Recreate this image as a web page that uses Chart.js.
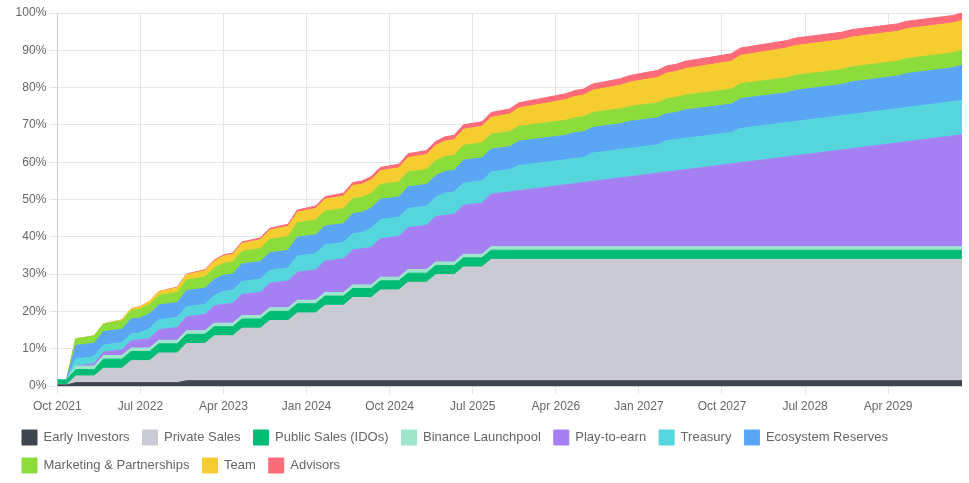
<!DOCTYPE html>
<html>
<head>
<meta charset="utf-8">
<script src="https://cdn.jsdelivr.net/npm/chart.js@4.4.1/dist/chart.umd.min.js"></script>
<style>
  html, body { margin: 0; padding: 0; background: #fff; }
</style>
</head>
<body>
<canvas id="vesting" width="969" height="483"></canvas>
<script>
// months, Oct 2021 .. Dec 2029
const months = [
  'Oct 2021', 'Nov 2021', 'Dec 2021', 'Jan 2022', 'Feb 2022', 'Mar 2022', 'Apr 2022', 'May 2022', 'Jun 2022', 'Jul 2022', 'Aug 2022', 'Sep 2022',
  'Oct 2022', 'Nov 2022', 'Dec 2022', 'Jan 2023', 'Feb 2023', 'Mar 2023', 'Apr 2023', 'May 2023', 'Jun 2023', 'Jul 2023', 'Aug 2023', 'Sep 2023',
  'Oct 2023', 'Nov 2023', 'Dec 2023', 'Jan 2024', 'Feb 2024', 'Mar 2024', 'Apr 2024', 'May 2024', 'Jun 2024', 'Jul 2024', 'Aug 2024', 'Sep 2024',
  'Oct 2024', 'Nov 2024', 'Dec 2024', 'Jan 2025', 'Feb 2025', 'Mar 2025', 'Apr 2025', 'May 2025', 'Jun 2025', 'Jul 2025', 'Aug 2025', 'Sep 2025',
  'Oct 2025', 'Nov 2025', 'Dec 2025', 'Jan 2026', 'Feb 2026', 'Mar 2026', 'Apr 2026', 'May 2026', 'Jun 2026', 'Jul 2026', 'Aug 2026', 'Sep 2026',
  'Oct 2026', 'Nov 2026', 'Dec 2026', 'Jan 2027', 'Feb 2027', 'Mar 2027', 'Apr 2027', 'May 2027', 'Jun 2027', 'Jul 2027', 'Aug 2027', 'Sep 2027',
  'Oct 2027', 'Nov 2027', 'Dec 2027', 'Jan 2028', 'Feb 2028', 'Mar 2028', 'Apr 2028', 'May 2028', 'Jun 2028', 'Jul 2028', 'Aug 2028', 'Sep 2028',
  'Oct 2028', 'Nov 2028', 'Dec 2028', 'Jan 2029', 'Feb 2029', 'Mar 2029', 'Apr 2029', 'May 2029', 'Jun 2029', 'Jul 2029', 'Aug 2029', 'Sep 2029',
  'Oct 2029', 'Nov 2029', 'Dec 2029'
];

// unlocked share of total supply, % (one value per month)
const earlyInvestors = [
  0.3, 0.3, 0.9, 0.9, 0.9, 0.9, 0.9, 0.9, 0.9, 0.9, 0.9, 0.9,
  0.9, 0.9, 1.4, 1.4, 1.4, 1.4, 1.4, 1.4, 1.4, 1.4, 1.4, 1.4,
  1.4, 1.4, 1.4, 1.4, 1.4, 1.4, 1.4, 1.4, 1.4, 1.4, 1.4, 1.4,
  1.4, 1.4, 1.4, 1.4, 1.4, 1.4, 1.4, 1.4, 1.4, 1.4, 1.4, 1.4,
  1.4, 1.4, 1.4, 1.4, 1.4, 1.4, 1.4, 1.4, 1.4, 1.4, 1.4, 1.4,
  1.4, 1.4, 1.4, 1.4, 1.4, 1.4, 1.4, 1.4, 1.4, 1.4, 1.4, 1.4,
  1.4, 1.4, 1.4, 1.4, 1.4, 1.4, 1.4, 1.4, 1.4, 1.4, 1.4, 1.4,
  1.4, 1.4, 1.4, 1.4, 1.4, 1.4, 1.4, 1.4, 1.4, 1.4, 1.4, 1.4,
  1.4, 1.4, 1.4
];
const privateSales = [
  0, 0, 1.8, 1.8, 1.8, 3.85, 3.85, 3.85, 5.9, 5.9, 5.9, 7.95,
  7.95, 7.95, 10, 10, 10, 12.05, 12.05, 12.05, 14.1, 14.1, 14.1, 16.15,
  16.15, 16.15, 18.2, 18.2, 18.2, 20.25, 20.25, 20.25, 22.3, 22.3, 22.3, 24.35,
  24.35, 24.35, 26.4, 26.4, 26.4, 28.45, 28.45, 28.45, 30.5, 30.5, 30.5, 32.55,
  32.55, 32.55, 32.55, 32.55, 32.55, 32.55, 32.55, 32.55, 32.55, 32.55, 32.55, 32.55,
  32.55, 32.55, 32.55, 32.55, 32.55, 32.55, 32.55, 32.55, 32.55, 32.55, 32.55, 32.55,
  32.55, 32.55, 32.55, 32.55, 32.55, 32.55, 32.55, 32.55, 32.55, 32.55, 32.55, 32.55,
  32.55, 32.55, 32.55, 32.55, 32.55, 32.55, 32.55, 32.55, 32.55, 32.55, 32.55, 32.55,
  32.55, 32.55, 32.55
];
const publicSales = [
  1.3, 1.3, 1.7, 1.7, 1.7, 2.45, 2.45, 2.45, 2.45, 2.45, 2.45, 2.45,
  2.45, 2.45, 2.45, 2.45, 2.45, 2.45, 2.45, 2.45, 2.45, 2.45, 2.45, 2.45,
  2.45, 2.45, 2.45, 2.45, 2.45, 2.45, 2.45, 2.45, 2.45, 2.45, 2.45, 2.45,
  2.45, 2.45, 2.45, 2.45, 2.45, 2.45, 2.45, 2.45, 2.45, 2.45, 2.45, 2.45,
  2.45, 2.45, 2.45, 2.45, 2.45, 2.45, 2.45, 2.45, 2.45, 2.45, 2.45, 2.45,
  2.45, 2.45, 2.45, 2.45, 2.45, 2.45, 2.45, 2.45, 2.45, 2.45, 2.45, 2.45,
  2.45, 2.45, 2.45, 2.45, 2.45, 2.45, 2.45, 2.45, 2.45, 2.45, 2.45, 2.45,
  2.45, 2.45, 2.45, 2.45, 2.45, 2.45, 2.45, 2.45, 2.45, 2.45, 2.45, 2.45,
  2.45, 2.45, 2.45
];
const binanceLaunchpool = [
  0, 0, 0.95, 0.95, 0.95, 0.95, 0.95, 0.95, 0.95, 0.95, 0.95, 0.95,
  0.95, 0.95, 0.95, 0.95, 0.95, 0.95, 0.95, 0.95, 0.95, 0.95, 0.95, 0.95,
  0.95, 0.95, 0.95, 0.95, 0.95, 0.95, 0.95, 0.95, 0.95, 0.95, 0.95, 0.95,
  0.95, 0.95, 0.95, 0.95, 0.95, 0.95, 0.95, 0.95, 0.95, 0.95, 0.95, 0.95,
  0.95, 0.95, 0.95, 0.95, 0.95, 0.95, 0.95, 0.95, 0.95, 0.95, 0.95, 0.95,
  0.95, 0.95, 0.95, 0.95, 0.95, 0.95, 0.95, 0.95, 0.95, 0.95, 0.95, 0.95,
  0.95, 0.95, 0.95, 0.95, 0.95, 0.95, 0.95, 0.95, 0.95, 0.95, 0.95, 0.95,
  0.95, 0.95, 0.95, 0.95, 0.95, 0.95, 0.95, 0.95, 0.95, 0.95, 0.95, 0.95,
  0.95, 0.95, 0.95
];
const playToEarn = [
  0, 0, 0, 0.31, 0.63, 0.94, 1.25, 1.56, 1.88, 2.19, 2.5, 2.81,
  3.13, 3.44, 3.75, 4.06, 4.38, 4.69, 5, 5.31, 5.63, 5.94, 6.25, 6.56,
  6.88, 7.19, 7.5, 7.81, 8.13, 8.44, 8.75, 9.06, 9.38, 9.69, 10, 10.31,
  10.63, 10.94, 11.25, 11.56, 11.88, 12.19, 12.5, 12.81, 13.13, 13.44, 13.75, 14.06,
  14.38, 14.69, 15, 15.31, 15.63, 15.94, 16.25, 16.56, 16.88, 17.19, 17.5, 17.81,
  18.13, 18.44, 18.75, 19.06, 19.38, 19.69, 20, 20.31, 20.63, 20.94, 21.25, 21.56,
  21.88, 22.19, 22.5, 22.81, 23.13, 23.44, 23.75, 24.06, 24.38, 24.69, 25, 25.31,
  25.63, 25.94, 26.25, 26.56, 26.88, 27.19, 27.5, 27.81, 28.13, 28.44, 28.75, 29.06,
  29.38, 29.69, 30
];
const treasury = [
  0, 0, 1.9, 1.9, 1.9, 1.9, 1.9, 1.9, 1.9, 1.9, 2.7, 2.7,
  2.7, 2.7, 2.7, 2.7, 2.7, 2.7, 3.5, 3.5, 3.5, 3.5, 3.5, 3.5,
  3.5, 3.5, 4.35, 4.35, 4.35, 4.35, 4.35, 4.35, 4.35, 4.35, 5.15, 5.15,
  5.15, 5.15, 5.15, 5.15, 5.15, 5.15, 5.95, 5.95, 5.95, 5.95, 5.95, 5.95,
  5.95, 5.95, 6.75, 6.75, 6.75, 6.75, 6.75, 6.75, 6.75, 6.75, 7.6, 7.6,
  7.6, 7.6, 7.6, 7.6, 7.6, 7.6, 8.4, 8.4, 8.4, 8.4, 8.4, 8.4,
  8.4, 8.4, 9.2, 9.2, 9.2, 9.2, 9.2, 9.2, 9.2, 9.2, 9.2, 9.2,
  9.2, 9.2, 9.2, 9.2, 9.2, 9.2, 9.2, 9.2, 9.2, 9.2, 9.2, 9.2,
  9.2, 9.2, 9.2
];
const ecosystemReserves = [
  0, 0, 3.6, 3.6, 3.6, 3.6, 3.6, 3.6, 3.97, 3.97, 3.97, 3.97,
  3.97, 3.97, 4.33, 4.33, 4.33, 4.33, 4.33, 4.33, 4.7, 4.7, 4.7, 4.7,
  4.7, 4.7, 5.06, 5.06, 5.06, 5.06, 5.06, 5.06, 5.43, 5.43, 5.43, 5.43,
  5.43, 5.43, 5.8, 5.8, 5.8, 5.8, 5.8, 5.8, 6.16, 6.16, 6.16, 6.16,
  6.16, 6.16, 6.53, 6.53, 6.53, 6.53, 6.53, 6.53, 6.89, 6.89, 6.89, 6.89,
  6.89, 6.89, 7.26, 7.26, 7.26, 7.26, 7.26, 7.26, 7.63, 7.63, 7.63, 7.63,
  7.63, 7.63, 7.99, 7.99, 7.99, 7.99, 7.99, 7.99, 8.36, 8.36, 8.36, 8.36,
  8.36, 8.36, 8.72, 8.72, 8.72, 8.72, 8.72, 8.72, 9.09, 9.09, 9.09, 9.09,
  9.09, 9.09, 9.45
];
const marketing = [
  0, 0, 1.8, 1.88, 1.97, 2.05, 2.14, 2.22, 2.31, 2.39, 2.48, 2.56,
  2.65, 2.73, 2.82, 2.9, 2.99, 3.07, 3.16, 3.24, 3.33, 3.41, 3.5, 3.58,
  3.67, 3.75, 3.84, 3.92, 4, 4, 4, 4, 4, 4, 4, 4,
  4, 4, 4, 4, 4, 4, 4, 4, 4, 4, 4, 4,
  4, 4, 4, 4, 4, 4, 4, 4, 4, 4, 4, 4,
  4, 4, 4, 4, 4, 4, 4, 4, 4, 4, 4, 4,
  4, 4, 4, 4, 4, 4, 4, 4, 4, 4, 4, 4,
  4, 4, 4, 4, 4, 4, 4, 4, 4, 4, 4, 4,
  4, 4, 4
];
const team = [
  0, 0, 0, 0, 0, 0, 0.15, 0.31, 0.47, 0.63, 0.8, 0.96,
  1.12, 1.28, 1.44, 1.6, 1.71, 1.83, 1.94, 2.05, 2.16, 2.28, 2.39, 2.5,
  2.61, 2.73, 2.84, 2.95, 3.06, 3.18, 3.29, 3.4, 3.47, 3.54, 3.61, 3.68,
  3.74, 3.81, 3.88, 3.95, 4.02, 4.09, 4.16, 4.23, 4.29, 4.36, 4.43, 4.5,
  4.63, 4.76, 4.89, 5.03, 5.16, 5.29, 5.42, 5.55, 5.68, 5.81, 5.94, 6.08,
  6.21, 6.34, 6.47, 6.6, 6.69, 6.78, 6.86, 6.95, 7.04, 7.13, 7.21, 7.3,
  7.39, 7.48, 7.56, 7.65, 7.74, 7.83, 7.91, 8, 8, 8, 8, 8,
  8, 8, 8, 8, 8, 8, 8, 8, 8, 8, 8, 8,
  8, 8, 8
];
const advisors = [
  0, 0, 0, 0, 0, 0, 0, 0, 0, 0.03, 0.07, 0.1,
  0.13, 0.17, 0.2, 0.23, 0.27, 0.3, 0.33, 0.37, 0.4, 0.43, 0.47, 0.5,
  0.53, 0.57, 0.6, 0.63, 0.67, 0.7, 0.73, 0.77, 0.8, 0.83, 0.87, 0.9,
  0.93, 0.97, 1, 1.03, 1.07, 1.1, 1.13, 1.17, 1.2, 1.23, 1.27, 1.3,
  1.33, 1.37, 1.4, 1.43, 1.47, 1.5, 1.53, 1.57, 1.6, 1.63, 1.67, 1.7,
  1.73, 1.77, 1.8, 1.83, 1.87, 1.9, 1.93, 1.97, 2, 2, 2, 2,
  2, 2, 2, 2, 2, 2, 2, 2, 2, 2, 2, 2,
  2, 2, 2, 2, 2, 2, 2, 2, 2, 2, 2, 2,
  2, 2, 2
];

const series = [
  ['Early Investors', earlyInvestors, '#3e4450'],
  ['Private Sales', privateSales, '#c9cad3'],
  ['Public Sales (IDOs)', publicSales, '#00bc74'],
  ['Binance Launchpool', binanceLaunchpool, '#9ee6cb'],
  ['Play-to-earn', playToEarn, '#a580f3'],
  ['Treasury', treasury, '#55d6dc'],
  ['Ecosystem Reserves', ecosystemReserves, '#5ba5f5'],
  ['Marketing & Partnerships', marketing, '#8cdc3c'],
  ['Team', team, '#f5cd2e'],
  ['Advisors', advisors, '#fe6b79'],
];

Chart.defaults.font.family = "'Liberation Sans', Arial, Helvetica, sans-serif";
Chart.defaults.color = '#666';

new Chart(document.getElementById('vesting').getContext('2d'), {
    type: 'line',
    data: {
        labels: months,
        datasets: series.map(([label, data, color], i) => ({
            label: label,
            data: data,
            backgroundColor: color,
            borderColor: color,
            borderWidth: 1,
            pointRadius: 0,
            pointHoverRadius: 0,
            tension: 0,
            fill: i === 0 ? 'origin' : '-1',
        }))
    },
    options: {
        responsive: false,
        animation: false,
        layout: {
            padding: { top: 13, left: 9, right: 7, bottom: 0 }
        },
        plugins: {
            legend: {
                position: 'bottom',
                align: 'start',
                labels: {
                    boxWidth: 15,
                    boxHeight: 15,
                    padding: 13,
                    color: '#666',
                    font: { size: 13 },
                }
            },
            tooltip: { enabled: false }
        },
        scales: {
            x: {
                grid: { color: '#e6e6e6', tickLength: 8 },
                ticks: {
                    autoSkip: false,
                    maxRotation: 0,
                    padding: 5,
                    font: { size: 12 },
                    callback: (value, index) => index % 9 === 0 ? months[index] : null,
                },
                afterFit: (scale) => { scale.height = 31; }
            },
            y: {
                stacked: true,
                min: 0,
                max: 100,
                grid: { color: '#e6e6e6', tickLength: 8 },
                ticks: {
                    stepSize: 10,
                    font: { size: 12 },
                    callback: (value) => value + '%',
                },
                afterFit: (scale) => { scale.width = 48.3; }
            }
        }
    }
});
</script>
</body>
</html>
